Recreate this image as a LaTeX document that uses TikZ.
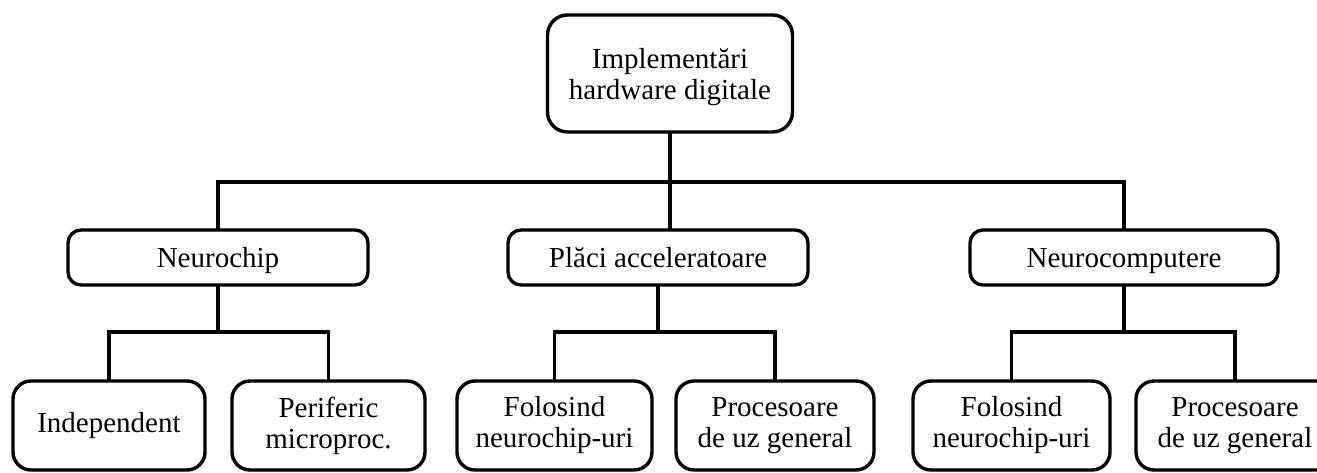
\documentclass[tikz,border=0pt]{standalone}
\usepackage{fontspec}
\setmainfont{Liberation Serif}
\newcommand\padtop[1]{\rule{0pt}{#1}}
\tikzset{
  box/.style={draw, line width=3.4pt, align=center, inner sep=0pt,
    font=\fontsize{29}{31}\selectfont},
  topbox/.style={box, rounded corners=20pt, minimum width=245pt, minimum height=117pt},
  midbox/.style={box, rounded corners=13pt, minimum height=55pt,
    text height=24pt, text depth=4pt},
  leafbox/.style={box, rounded corners=18pt, minimum height=89pt},
  wire/.style={line width=3.4pt, line cap=rect}
}
\begin{document}
\begin{tikzpicture}[x=1pt,y=-1pt]
\useasboundingbox (0,0) rectangle (1317,473);

% root
\node[topbox] (root) at (670,73.5) {\padtop{28pt}Implementări\\hardware digitale};

% second level
\node[midbox, minimum width=300pt] (chip) at (218,257.5) {Neurochip};
\node[midbox, minimum width=300pt] (acc)  at (658,257.5) {Plăci acceleratoare};
\node[midbox, minimum width=308pt] (comp) at (1124,257.5) {Neurocomputere};

% leaves
\node[leafbox, minimum width=192pt] (ind)  at (109,425.5)    {Independent};
\node[leafbox, minimum width=193pt] (per)  at (328.5,425.5)  {Periferic\\microproc.};
\node[leafbox, minimum width=195pt] (fa)   at (554.5,425.5)  {Folosind\\neurochip-uri};
\node[leafbox, minimum width=198pt] (pa)   at (775,425.5)    {Procesoare\\de uz general};
\node[leafbox, minimum width=197pt] (fc)   at (1011.5,425.5) {Folosind\\neurochip-uri};
\node[leafbox, minimum width=198pt] (pc)   at (1235,425.5)   {Procesoare\\de uz general};

% bus coordinates
\coordinate (bus) at (670,182);
\coordinate (s1) at (218,332);
\coordinate (s2) at (658,332);
\coordinate (s3) at (1124,332);

% root to second level
\draw[wire] (root.south) -- (bus);
\draw[wire] (chip.north) |- (bus) -| (comp.north);
\draw[wire] (acc.north -| bus) -- (bus);

% second level to leaves
\draw[wire] (chip.south) -- (s1);
\draw[wire] (ind.north) |- (s1) -| (per.north);
\draw[wire] (acc.south) -- (s2);
\draw[wire] (fa.north) |- (s2) -| (pa.north);
\draw[wire] (comp.south) -- (s3);
\draw[wire] (fc.north) |- (s3) -| (pc.north);
\end{tikzpicture}
\end{document}
